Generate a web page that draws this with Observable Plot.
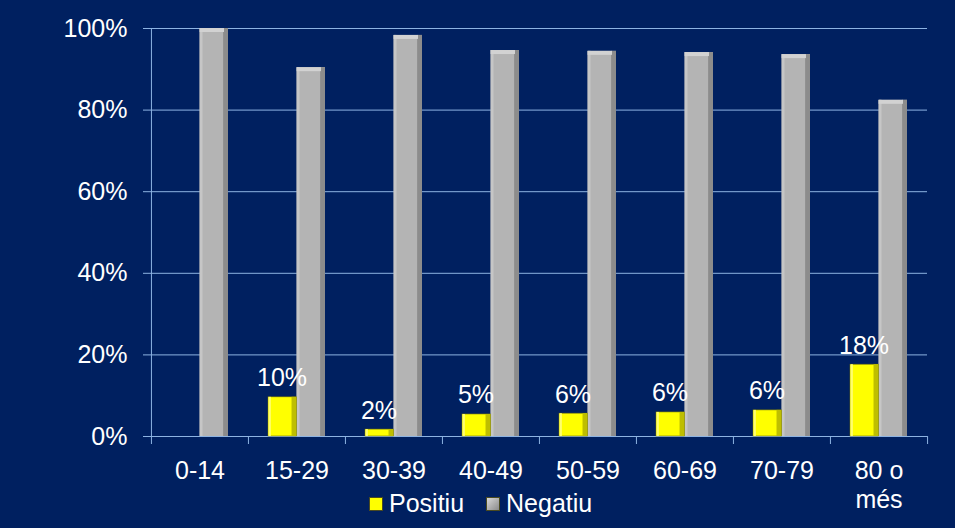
<!DOCTYPE html>
<html><head><meta charset="utf-8">
<script src="https://cdn.jsdelivr.net/npm/d3@7"></script>
<script src="https://cdn.jsdelivr.net/npm/@observablehq/plot@0.6"></script>
<style>
html,body{margin:0;padding:0;background:#002060;}
#wrap{position:relative;width:955px;height:528px;overflow:hidden;font-family:"Liberation Sans",Arial,sans-serif;}
#legend{position:absolute;left:369px;top:491px;display:flex;align-items:center;color:#fff;font-size:25px;line-height:25px;}
.sw{width:14px;height:14px;display:inline-block;margin-right:6px;box-sizing:border-box;border:1px solid #4a4a20;}
</style></head><body><div id="wrap"></div>
<script>
const categories = ["0-14","15-29","30-39","40-49","50-59","60-69","70-79","80 o més"];
const positiu = [0, 0.096, 0.017, 0.054, 0.056, 0.059, 0.064, 0.176];
const negatiu = [1.0, 0.904, 0.983, 0.946, 0.944, 0.941, 0.936, 0.824];
const yTicks = [0, 0.2, 0.4, 0.6, 0.8, 1];
const seriesNames = ["Positiu", "Negatiu"];
const seriesColors = ["#FFFF00", "#B4B4B4"];

const data = categories.map((c, i) => ({cat: c, pos: positiu[i], neg: negatiu[i]}));
const posData = data.filter(d => d.pos > 0);
const W = 955, H = 528, ML = 150, MR = 28, MT = 28, MB = 92;
const bw = (W - ML - MR) / categories.length;
const grid = "#8DB3E2";
const pct = d3.format(".0%");
const gL = 48.6, gR = 20, yL = 20, yR = 48.6;

const chart = Plot.plot({
  width: W, height: H,
  marginLeft: ML, marginRight: MR, marginTop: MT, marginBottom: MB,
  style: {background: "#002060", color: "white", fontFamily: "Liberation Sans, Arial, sans-serif", fontSize: "25px"},
  x: {domain: categories, padding: 0, axis: null},
  y: {domain: [0, 1], axis: null},
  marks: [
    Plot.gridY(yTicks, {stroke: grid, strokeOpacity: 1}),
    Plot.ruleY([0], {stroke: grid}),
    Plot.ruleX(categories, {x: d => d, y1: 0, y2: 0, dx: -bw / 2, insetBottom: -8, stroke: grid}),
    Plot.ruleX([categories[0]], {x: d => d, y1: 1, y2: 0, dx: -bw / 2, stroke: grid}),
    Plot.ruleX([categories[categories.length - 1]], {x: d => d, y1: 0, y2: 0, dx: bw / 2, insetBottom: -8, stroke: grid}),
    Plot.axisY({ticks: yTicks, tickFormat: pct, tickSize: 7, tickPadding: 16, stroke: grid, fill: "white", fontSize: 25, label: null}),
    Plot.axisX({tickSize: 0, tickPadding: 22, fill: "white", fontSize: 25, label: null, lineHeight: 1.15,
      tickFormat: d => d.replace(" més", "\nmés")}),
    // Negatiu bars (front, left highlight, right side, top bevel)
    Plot.barY(data, {x: "cat", y: "neg", fill: seriesColors[1], insetLeft: gL, insetRight: gR}),
    Plot.barY(data, {x: "cat", y: "neg", fill: "#C6C6C6", insetLeft: gL, insetRight: bw - gL - 3}),
    Plot.barY(data, {x: "cat", y: "neg", fill: "#8C8C8C", insetLeft: bw - gR - 5, insetRight: gR}),
    Plot.barY(data, {x: "cat", y1: "neg", y2: "neg", fill: "#D2D2D2", insetLeft: gL, insetRight: gR + 4, insetBottom: -4}),
    // Positiu bars
    Plot.barY(posData, {x: "cat", y: "pos", fill: seriesColors[0], stroke: "#6b6b10", strokeWidth: 0.6, insetLeft: yL, insetRight: yR}),
    Plot.barY(posData, {x: "cat", y: "pos", fill: "#FFFF70", insetLeft: yL + 0.5, insetRight: bw - yL - 3}),
    Plot.barY(posData, {x: "cat", y: "pos", fill: "#BEBE00", insetLeft: bw - yR - 5, insetRight: yR}),
    Plot.text(posData, {x: "cat", y: "pos", text: d => pct(d.pos), dx: -15, dy: -19, fill: "white", fontSize: 25})
  ]
});
const wrap = document.getElementById("wrap");
wrap.appendChild(chart);
const legend = document.createElement("div");
legend.id = "legend";
seriesNames.forEach((n, i) => {
  const sw = document.createElement("span");
  sw.className = "sw";
  sw.style.background = i === 0 ? seriesColors[0] : "linear-gradient(135deg,#d8d8d8,#8a8a8a)";
  if (i > 0) sw.style.marginLeft = "22px";
  legend.appendChild(sw);
  const t = document.createElement("span");
  t.textContent = n;
  legend.appendChild(t);
});
wrap.appendChild(legend);
</script></body></html>
